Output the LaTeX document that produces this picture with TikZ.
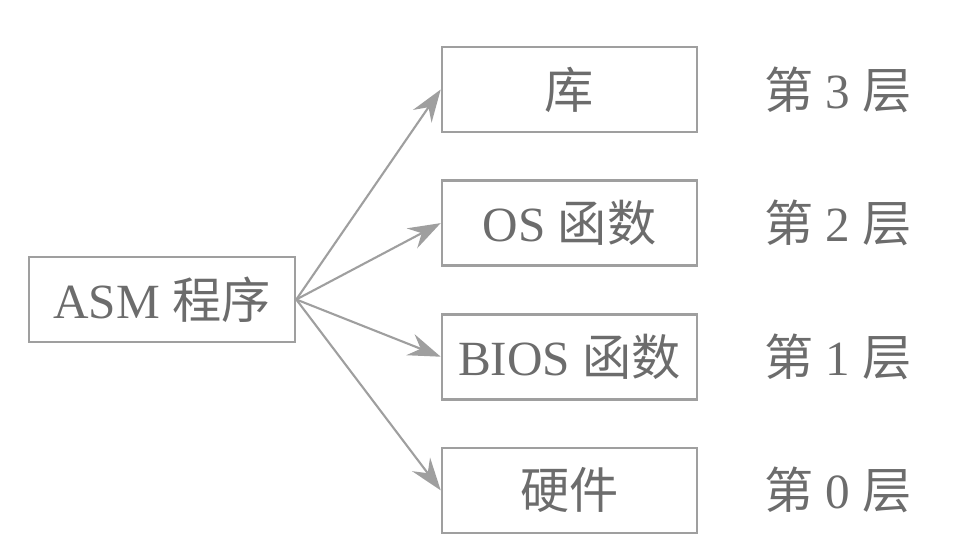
\documentclass[tikz,border=0pt]{standalone}
\usepackage{fontspec}
\setmainfont{Liberation Serif}
\newfontfamily\cjk{Noto Sans CJK SC}
\usepackage{xcolor}
\usetikzlibrary{positioning,arrows.meta}

\newcommand{\zh}[1]{{\cjk #1}}

\begin{document}
\begin{tikzpicture}[
    x=0.02cm, y=-0.02cm,
    node distance=0.92cm,
    box/.style={draw=gray!75, line width=1.5pt, text=gray!85!black, minimum height=1.7cm, font=\fontsize{28}{30}\selectfont},
    layer/.style={draw=gray!75, line width=1.5pt, text=gray!85!black, minimum width=5.1cm, minimum height=1.7cm, font=\fontsize{28}{30}\selectfont},
    lvl/.style={text=gray!85!black, font=\fontsize{28}{30}\selectfont, right=1.2cm of #1},
    arr/.style={draw=gray!75, line width=1.2pt, -{Stealth[length=6.5mm,width=4.5mm,inset=2.2mm]}}
]
\useasboundingbox (0,0) rectangle (964,544);

% left box
\node[box, minimum width=5.32cm] (asm) at (162,299.5) {ASM \zh{程序}};

% layer boxes
\node[layer] (lib) at (569.5,89.5) {\zh{库}};
\node[layer, below=of lib] (os) {OS \zh{函数}};
\node[layer, below=of os] (bios) {BIOS \zh{函数}};
\node[layer, below=of bios] (hw) {\zh{硬件}};

% layer numbers
\node[lvl=lib] (l3) {\zh{第}~3~\zh{层}};
\node[lvl=os] (l2) {\zh{第}~2~\zh{层}};
\node[lvl=bios] (l1) {\zh{第}~1~\zh{层}};
\node[lvl=hw] (l0) {\zh{第}~0~\zh{层}};

\foreach \t in {lib,os,bios,hw}
    \draw[arr] (asm.east) -- (\t.west);
\end{tikzpicture}
\end{document}
